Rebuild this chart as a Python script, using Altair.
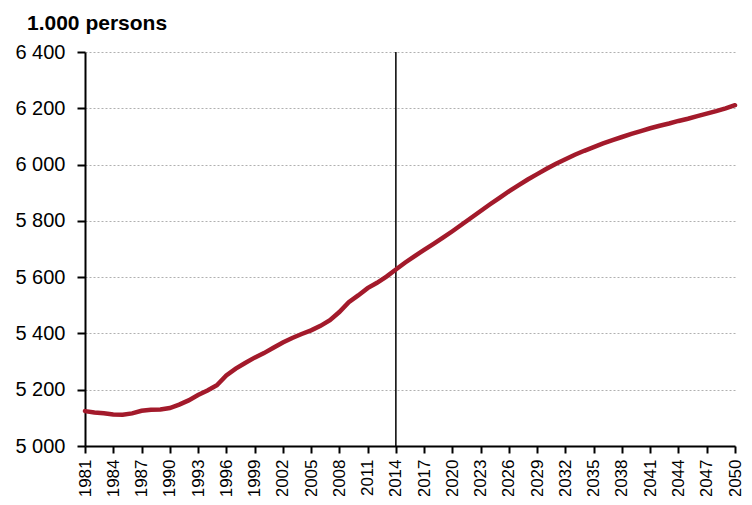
import altair as alt
import pandas as pd

years = list(range(1981, 2051))
population = [
    5124, 5119, 5116, 5112, 5111, 5116, 5125, 5129, 5130, 5135,
    5147, 5162, 5181, 5197, 5216, 5251, 5275, 5295, 5314, 5330,
    5349, 5368, 5384, 5398, 5411, 5427, 5447, 5476, 5511, 5535,
    5561, 5580, 5602, 5627,
    5652, 5675, 5697, 5718, 5740, 5763, 5787, 5811, 5835, 5859,
    5882, 5905, 5926, 5947, 5966, 5985, 6003, 6019, 6035, 6049,
    6062, 6075, 6087, 6098, 6109, 6119, 6129, 6138, 6146, 6155,
    6163, 6172, 6181, 6190, 6200, 6211,
]
x_ticks = list(range(1981, 2051, 3))
y_ticks = [5000, 5200, 5400, 5600, 5800, 6000, 6200, 6400]
base_year = [2014]
title_text = "1.000 persons"

df = pd.DataFrame({"year": years, "pop": population})
rule_df = pd.DataFrame({"year": base_year})

FONT = "Liberation Sans"

x_scale = alt.Scale(domain=[1981, 2050], nice=False, zero=False)
y_scale = alt.Scale(domain=[5000, 6400], nice=False, zero=False)

line = alt.Chart(df).mark_line(color="#A31A2B", strokeWidth=4.5, strokeCap="round").encode(
    x=alt.X("year:Q", scale=x_scale,
            axis=alt.Axis(values=x_ticks, tickCount=100, format="d", labelAngle=270,
                          labelAlign="right", labelBaseline="middle", labelPadding=6,
                          tickSize=7, tickColor="black", tickWidth=2, domainColor="black",
                          domainWidth=2, grid=False, title=None, labelFont=FONT,
                          labelFontSize=17, labelColor="black", labelOverlap=False,
                          labelFlush=False)),
    y=alt.Y("pop:Q", scale=y_scale,
            axis=alt.Axis(values=y_ticks, tickCount=20,
                          labelExpr="replace(format(datum.value, ','), ',', ' ')",
                          tickSize=8, tickColor="black", tickWidth=2, domainColor="black",
                          domainWidth=2, labelPadding=12, grid=True, gridColor="#b0b0b0",
                          gridDash=[2, 2], gridWidth=1, title=None, labelFont=FONT,
                          labelFontSize=20, labelColor="black", labelFlush=False,
                          labelOverlap=False)),
)

rule = alt.Chart(rule_df).mark_rule(color="black", strokeWidth=1.5).encode(
    x=alt.X("year:Q", scale=x_scale)
)

chart = alt.layer(rule, line).properties(
    width=650,
    height=394,
    title=alt.TitleParams(title_text, anchor="start", frame="group", dx=-58, fontSize=21,
                          fontWeight="bold", font=FONT, color="black", offset=8),
    padding={"left": 77, "top": 44, "right": 9, "bottom": 50},
    autosize=alt.AutoSizeParams(type="none"),
).configure_view(stroke=None)

chart.save("out.html", embed_options={"renderer": "svg", "actions": False})
